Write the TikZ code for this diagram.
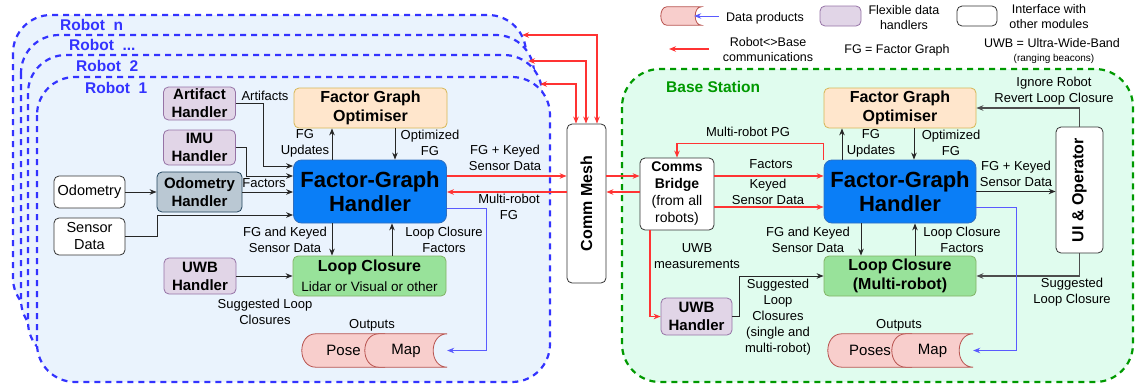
\documentclass[tikz,border=0pt]{standalone}
\usepackage{fontspec}
\setmainfont{Liberation Sans}
\usepackage{graphicx}
\usetikzlibrary{positioning,backgrounds,arrows.meta}

\definecolor{robotline}{HTML}{3333FF}
\definecolor{robotfill}{HTML}{EAF3FD}
\definecolor{basegreen}{HTML}{009900}
\definecolor{basefill}{HTML}{E0FCEE}
\definecolor{handlerfill}{HTML}{E1D5E7}
\definecolor{handlerline}{HTML}{9673A6}
\definecolor{odofill}{HTML}{BAC8D3}
\definecolor{odoline}{HTML}{23445D}
\definecolor{optfill}{HTML}{FFE6CC}
\definecolor{optline}{HTML}{D6B656}
\definecolor{fghfill}{HTML}{0A7EF7}
\definecolor{fghline}{HTML}{2F6FC0}
\definecolor{lcfill}{HTML}{98E29A}
\definecolor{lcline}{HTML}{82B366}
\definecolor{prodfill}{HTML}{F8CECC}
\definecolor{prodline}{HTML}{B85450}
\definecolor{commred}{HTML}{FF3333}
\definecolor{outblue}{HTML}{5A5AFF}
\definecolor{uigray}{HTML}{4D4D4D}

% data product outline, drawn behind the named node
\newcommand\prodshape[2]{%
  \filldraw[fill=prodfill,draw=prodline,line width=0.8pt]
    ([xshift=#2pt]#1.north west) -- (#1.north east)
    .. controls ([xshift={-#2pt*4/3}]#1.north east) and ([xshift={-#2pt*4/3}]#1.south east) .. (#1.south east)
    -- ([xshift=#2pt]#1.south west)
    .. controls ([xshift={-#2pt/3}]#1.south west) and ([xshift={-#2pt/3}]#1.north west) .. ([xshift=#2pt]#1.north west)
    -- cycle;}

\begin{document}
\begin{tikzpicture}[x=1pt,y=-1pt,
  >={Stealth[length=7pt,width=5.5pt]},
  lbl/.style={font=\fontsize{13}{16}\selectfont,align=center,inner sep=0pt},
  legend/.style={font=\fontsize{12.5}{15}\selectfont,align=center,inner sep=0pt},
  box/.style={draw,rounded corners=5pt,inner sep=0pt,align=center,line width=0.8pt},
  handler/.style={box,fill=handlerfill,draw=handlerline,minimum width=72pt,
    font=\fontsize{15}{18}\selectfont\bfseries},
  iface/.style={box,fill=white,draw=black!80,minimum width=71pt,
    font=\fontsize{14.5}{17}\selectfont},
  optim/.style={box,fill=optfill,draw=optline,minimum width=153pt,minimum height=40pt,
    font=\fontsize{16}{19}\selectfont\bfseries},
  fgh/.style={box,rounded corners=8pt,fill=fghfill,draw=fghline,minimum width=153pt,
    minimum height=63pt,font=\fontsize{22}{24}\selectfont\bfseries},
  loopc/.style={box,fill=lcfill,draw=lcline,minimum width=153pt,minimum height=40pt,
    font=\fontsize{16}{19}\selectfont},
  prod/.style={inner sep=0pt,minimum height=33pt,font=\fontsize{15}{18}\selectfont},
  robotbox/.style={draw=robotline,fill=robotfill,line width=2.2pt,
    dash pattern=on 6pt off 5pt,rounded corners=38pt},
  robotlbl/.style={anchor=west,inner sep=0pt,text=robotline,
    font=\fontsize{15.5}{18}\selectfont\bfseries},
  conn/.style={draw=black!85,line width=1pt,->},
  comm/.style={draw=commred,line width=1.1pt,->},
  outp/.style={draw=outblue,line width=0.9pt,->},
  uiconn/.style={draw=uigray,line width=1.2pt,->}]

\useasboundingbox (0,0) rectangle (1135,386);

\begin{scope}[on background layer]
\draw[robotbox] (13,15) rectangle (526,316);
\draw[robotbox] (21,35) rectangle (534,338);
\draw[robotbox] (28,55) rectangle (542,360);
\draw[robotbox] (37,77) rectangle (550,382);
\draw[draw=basegreen,fill=basefill,line width=2.2pt,dash pattern=on 6pt off 5pt,
  rounded corners=38pt] (622,69) rectangle (1133,382);
\end{scope}

\node[robotlbl] (robotn) at (60,25) {Robot\ \ n};
\node[robotlbl] (robotdots) at (69,45) {Robot\ \ ...};
\node[robotlbl] (robot2) at (76,66) {Robot\ \ 2};
\node[robotlbl] (robot1) at (85,88) {Robot\ \ 1};
\node[robotlbl,text=basegreen] (basestation) at (666,87) {Base Station};

% robot side
\node[handler,minimum height=33pt] (artifact) at (199.5,103.5) {Artifact\\Handler};
\node[handler,minimum height=35pt] (imu) at (199.5,147.5) {IMU\\Handler};
\node[handler,fill=odofill,draw=odoline,minimum width=85pt,minimum height=40pt] (odohandler) at (199.5,192) {Odometry\\Handler};
\node[handler,minimum height=36pt] (uwb) at (200,276) {UWB\\Handler};
\node[iface,minimum height=32pt] (odometry) at (89.5,192) {Odometry};
\node[iface,minimum height=37pt] (sensor) at (89.5,236.5) {Sensor\\Data};
\node[optim] (optimiser) at (370.5,108) {Factor Graph\\Optimiser};
\node[fgh] (handler) at (370,191.5) {Factor-Graph\\Handler};
\node[loopc] (loop) at (369.5,276) {\textbf{Loop Closure}\\[1pt]\fontsize{13.5}{16}\selectfont Lidar or Visual or other};
\node[prod,minimum width=83pt] (pose) at (343.5,350.5) {Pose};
\node[prod,minimum width=82pt] (map) at (406,350.5) {Map};

\node[lbl] (lartifacts) at (265,96) {Artifacts};
\node[lbl] (lfgupdates) at (305,143) {FG\\Updates};
\node[lbl] (loptfg) at (430,143) {Optimized\\FG};
\node[lbl] (lfgkeyed) at (505,158) {FG + Keyed\\Sensor Data};
\node[lbl] (lfactors) at (264,183) {Factors};
\node[lbl] (lmultifg) at (509,207) {Multi-robot\\FG};
\node[lbl] (lkeyeddown) at (285,240) {FG and Keyed\\Sensor Data};
\node[lbl] (llcfactors) at (444,240) {Loop Closure\\Factors};
\node[lbl] (lsuggested) at (265,312) {Suggested Loop\\Closures};
\node[lbl] (loutputs) at (372,325) {Outputs};

% comm mesh
\node[box,fill=white,draw=black!80,minimum width=39pt,minimum height=159pt,
  font=\fontsize{16}{19}\selectfont\bfseries] (mesh) at (586.5,203.5) {\rotatebox{90}{Comm Mesh}};
\coordinate (robot1in) at (540,84);
\coordinate (robot2in) at (528,61);
\coordinate (robotnin) at (522,35);

% base station
\node[iface,font=\fontsize{14}{17}\selectfont,minimum width=74pt,minimum height=72pt] (bridge) at (677,194)
  {\textbf{Comms}\\\textbf{Bridge}\\(from all\\robots)};
\node[handler,minimum width=71pt,minimum height=37pt] (uwbbase) at (696.5,316.5) {UWB\\Handler};
\node[optim,minimum width=152pt] (optimiserbase) at (900,108) {Factor Graph\\Optimiser};
\node[fgh,minimum width=152pt] (handlerbase) at (900,191.5) {Factor-Graph\\Handler};
\node[loopc,minimum width=152pt,font=\fontsize{16}{19}\selectfont\bfseries] (loopbase) at (900,276) {Loop Closure\\(Multi-robot)};
\node[box,fill=white,draw=black!80,minimum width=47pt,minimum height=126pt,
  font=\fontsize{16}{19}\selectfont\bfseries] (operator) at (1079.5,190) {\rotatebox{90}{UI \& Operator}};
\node[prod,minimum width=84pt] (poses) at (870,350.5) {Poses};
\node[prod,minimum width=81pt] (mapbase) at (932.5,350.5) {Map};

\node[lbl] (lmultipg) at (748,132) {Multi-robot PG};
\node[lbl] (lfgupdatesb) at (871,143) {FG\\Updates};
\node[lbl] (loptfgb) at (951,143) {Optimized\\FG};
\node[lbl] (lfactorsb) at (771,164) {Factors};
\node[lbl] (lkeyedb) at (768,192) {Keyed\\Sensor Data};
\node[lbl] (lfgkeyedb) at (1016,174) {FG + Keyed\\Sensor Data};
\node[lbl] (lignore) at (1054,91) {Ignore Robot\\Revert Loop Closure};
\node[lbl] (lkeyeddownb) at (808,240) {FG and Keyed\\Sensor Data};
\node[lbl] (llcfactorsb) at (962,240) {Loop Closure\\Factors};
\node[lbl] (luwbmeas) at (697,256) {UWB\\measurements};
\node[lbl] (lsuggestedb) at (778,317) {Suggested\\Loop\\Closures\\(single and\\multi-robot)};
\node[lbl] (lsuggestedui) at (1072,292) {Suggested\\Loop Closure};
\node[lbl] (loutputsb) at (899,325) {Outputs};

% legend
\node[prod,minimum width=40pt,minimum height=18pt] (legprod) at (681,16) {};
\coordinate (legblue) at (719,16);
\node[legend] (lprod) at (765,18) {Data products};
\node[box,fill=handlerfill,draw=handlerline,minimum width=41pt,minimum height=20pt] (leghandler) at (840.5,16) {};
\node[legend] (lflex) at (904,18) {Flexible data\\handlers};
\node[box,fill=white,draw=black!80,minimum width=40pt,minimum height=20pt] (legiface) at (977,16) {};
\node[legend] (liface) at (1049,17) {Interface with\\other modules};
\coordinate (legredstart) at (709,49);
\coordinate (legredend) at (669,49);
\node[legend] (lcomm) at (768,50) {Robot<>Base\\communications};
\node[legend] (lfg) at (897,50) {FG = Factor Graph};
\node[legend] (luwb) at (1052,43) {UWB = Ultra-Wide-Band};
\node[legend,font=\fontsize{10}{12}\selectfont] (lbeacons) at (1054,59) {(ranging beacons)};

\begin{scope}[on background layer]
\prodshape{pose}{14}
\prodshape{map}{14}
\prodshape{poses}{14}
\prodshape{mapbase}{14}
\prodshape{legprod}{6}
\end{scope}

% robot connectors
\draw[conn] (artifact.east) -- ++(28,0) |- ([yshift=25.5pt]handler.west);
\draw[conn] (imu.east) -- ++(11,0) |- ([yshift=15.5pt]handler.west);
\draw[conn] (odometry) -- (odohandler);
\draw[conn] (odohandler.east) -- (odohandler.east -| handler.west);
\draw[conn] (sensor.east) -- ++(32,0) |- ([yshift=-23.5pt]handler.west);
\draw[conn] ([xshift=-38pt]handler.north) -- ([xshift=-38pt]handler.north |- optimiser.south);
\draw[conn] ([xshift=24.5pt]optimiser.south) -- ([xshift=24.5pt]optimiser.south |- handler.north);
\draw[conn] ([xshift=-38pt]handler.south) -- ([xshift=-38pt]handler.south |- loop.north);
\draw[conn] ([xshift=22.5pt]loop.north) -- ([xshift=22.5pt]loop.north |- handler.south);
\draw[conn] (uwb) -- (loop);
\draw[outp] ([yshift=-16.5pt]handler.east) -- ++(40,0) |- (map.east);
\draw[comm] ([yshift=15.5pt]handler.east) -- ([yshift=27.5pt]mesh.west);
\draw[comm] ([yshift=11.5pt]mesh.west) -- ([yshift=-0.5pt]handler.east);
\draw[comm,<->] (robot1in) -| ([xshift=-10.5pt]mesh.north);
\draw[comm,<->] (robot2in) -| ([xshift=-0.5pt]mesh.north);
\draw[comm,<->] (robotnin) -| ([xshift=10.5pt]mesh.north);

% base connectors
\draw[comm] ([yshift=27.5pt]mesh.east) -- ([yshift=18pt]bridge.west);
\draw[comm] ([yshift=2pt]bridge.west) -- ([yshift=11.5pt]mesh.east);
\draw[comm] (handlerbase.north west) -- ++(0,-16) -| (bridge.north);
\draw[comm] ([yshift=18pt]bridge.east) -- ([yshift=15.5pt]handlerbase.west);
\draw[comm] ([yshift=-13pt]bridge.east) -- ([yshift=-15.5pt]handlerbase.west);
\draw[comm] ([xshift=-27pt]bridge.south) |- (uwbbase.west);
\draw[conn] (uwbbase.east) -- ++(7,0) |- (loopbase.west);
\draw[conn] ([xshift=-58pt]handlerbase.north) -- ([xshift=-58pt]handlerbase.north |- optimiserbase.south);
\draw[conn] ([xshift=14pt]optimiserbase.south) -- ([xshift=14pt]optimiserbase.south |- handlerbase.north);
\draw[conn] ([xshift=-39pt]handlerbase.south) -- ([xshift=-39pt]handlerbase.south |- loopbase.north);
\draw[conn] ([xshift=15pt]loopbase.north) -- ([xshift=15pt]loopbase.north |- handlerbase.south);
\draw[conn] (handlerbase.east) -- (handlerbase.east -| operator.west);
\draw[uiconn] (operator.north) |- (optimiserbase.east);
\draw[uiconn] (operator.south) |- (loopbase.east);
\draw[outp] ([yshift=-15.5pt]handlerbase.east) -- ++(40,0) |- (mapbase.east);

% legend connectors
\draw[outp] (legblue) -- ([xshift=-7pt]legprod.east);
\draw[comm] (legredstart) -- (legredend);
\end{tikzpicture}
\end{document}
